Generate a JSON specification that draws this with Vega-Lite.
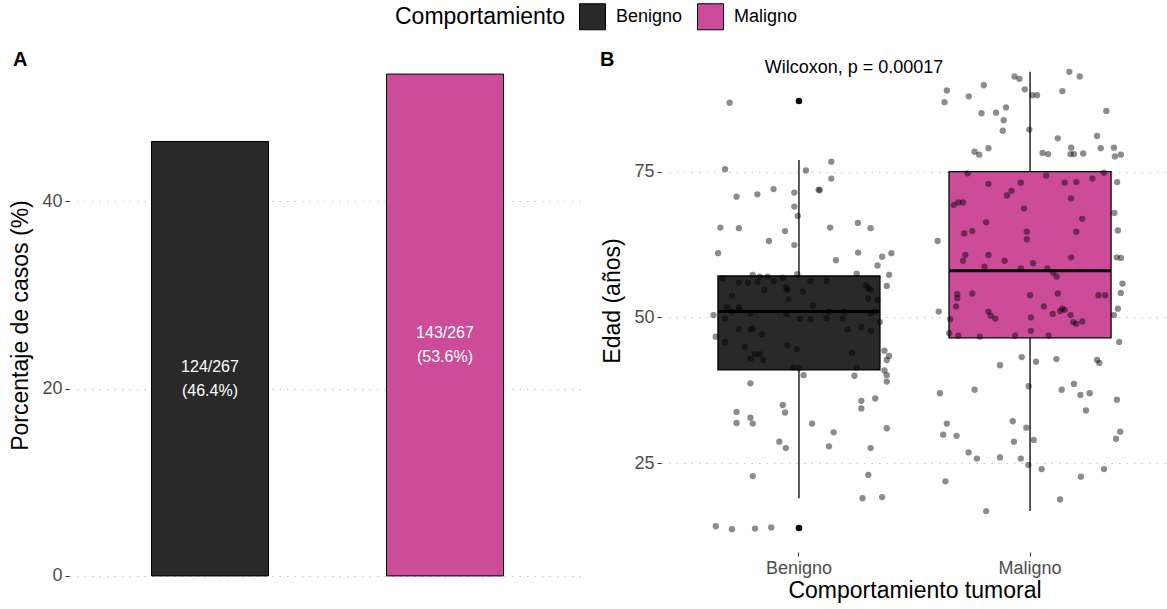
{
  "$schema": "https://vega.github.io/schema/vega-lite/v6.json",
  "padding": {"left": 9, "top": 3, "right": 0, "bottom": 4},
  "config": {
    "font": "Liberation Sans",
    "view": {"stroke": null},
    "axis": {
      "domain": false,
      "tickColor": "#333333",
      "tickSize": 4,
      "labelColor": "#4d4d4d",
      "labelFontSize": 18,
      "labelPadding": 3,
      "titleFontSize": 23,
      "titleFontWeight": "normal",
      "titleColor": "black",
      "gridColor": "#c4c4c4",
      "gridDash": [1.5, 6],
      "gridWidth": 1.2
    },
    "title": {"fontSize": 20, "fontWeight": "bold", "color": "black", "anchor": "start", "frame": "bounds"}
  },
  "datasets": {
    "barras": [
      {"grupo": "Benigno", "pct": 46.4, "label": "124/267\n(46.4%)"},
      {"grupo": "Maligno", "pct": 53.6, "label": "143/267\n(53.6%)"}
    ],
    "stats": [
      {"grupo": "Benigno", "lower": 19.0, "q1": 41.0, "median": 51.0, "q3": 57.1, "upper": 77.0},
      {"grupo": "Maligno", "lower": 16.8, "q1": 46.5, "median": 58.0, "q3": 75.0, "upper": 92.1}
    ],
    "outl": [
      {"grupo": "Benigno", "edad": 87.1},
      {"grupo": "Benigno", "edad": 13.9}
    ],
    "nota": [
      {"grupo": "Benigno", "y": 92.8, "label": "Wilcoxon, p = 0.00017"}
    ],
    "pts": [
      {"grupo":"Benigno","edad":86.8,"jit":-0.30},
      {"grupo":"Benigno","edad":75.4,"jit":-0.32},
      {"grupo":"Benigno","edad":75.2,"jit":0.03},
      {"grupo":"Benigno","edad":76.7,"jit":0.14},
      {"grupo":"Benigno","edad":73.8,"jit":0.14},
      {"grupo":"Benigno","edad":71.9,"jit":0.085},
      {"grupo":"Benigno","edad":71.8,"jit":0.09},
      {"grupo":"Benigno","edad":70.7,"jit":-0.27},
      {"grupo":"Benigno","edad":71.1,"jit":-0.18},
      {"grupo":"Benigno","edad":72.0,"jit":-0.11},
      {"grupo":"Benigno","edad":71.4,"jit":-0.02},
      {"grupo":"Benigno","edad":69.0,"jit":-0.02},
      {"grupo":"Benigno","edad":67.4,"jit":-0.005},
      {"grupo":"Benigno","edad":65.4,"jit":-0.34},
      {"grupo":"Benigno","edad":65.3,"jit":-0.26},
      {"grupo":"Benigno","edad":64.8,"jit":-0.06},
      {"grupo":"Benigno","edad":65.4,"jit":0.135},
      {"grupo":"Benigno","edad":66.2,"jit":0.255},
      {"grupo":"Benigno","edad":65.3,"jit":0.31},
      {"grupo":"Benigno","edad":63.1,"jit":-0.13},
      {"grupo":"Benigno","edad":62.4,"jit":-0.02},
      {"grupo":"Benigno","edad":61.0,"jit":-0.35},
      {"grupo":"Benigno","edad":61.1,"jit":0.256},
      {"grupo":"Benigno","edad":59.8,"jit":0.16},
      {"grupo":"Benigno","edad":60.4,"jit":0.36},
      {"grupo":"Benigno","edad":61.0,"jit":0.40},
      {"grupo":"Benigno","edad":58.9,"jit":0.34},
      {"grupo":"Benigno","edad":57.3,"jit":0.39},
      {"grupo":"Benigno","edad":55.4,"jit":0.38},
      {"grupo":"Benigno","edad":57.5,"jit":0.25},
      {"grupo":"Benigno","edad":57.3,"jit":-0.20},
      {"grupo":"Benigno","edad":57.0,"jit":-0.17},
      {"grupo":"Benigno","edad":57.0,"jit":-0.135},
      {"grupo":"Benigno","edad":56.8,"jit":-0.07},
      {"grupo":"Benigno","edad":57.4,"jit":-0.007},
      {"grupo":"Benigno","edad":56.7,"jit":-0.33},
      {"grupo":"Benigno","edad":55.9,"jit":-0.26},
      {"grupo":"Benigno","edad":55.9,"jit":-0.22},
      {"grupo":"Benigno","edad":56.1,"jit":-0.18},
      {"grupo":"Benigno","edad":56.2,"jit":-0.11},
      {"grupo":"Benigno","edad":54.7,"jit":-0.15},
      {"grupo":"Benigno","edad":55.1,"jit":-0.055},
      {"grupo":"Benigno","edad":54.7,"jit":-0.05},
      {"grupo":"Benigno","edad":54.4,"jit":0.017},
      {"grupo":"Benigno","edad":56.3,"jit":0.05},
      {"grupo":"Benigno","edad":56.3,"jit":0.12},
      {"grupo":"Benigno","edad":55.5,"jit":0.29},
      {"grupo":"Benigno","edad":55.0,"jit":0.30},
      {"grupo":"Benigno","edad":54.7,"jit":0.31},
      {"grupo":"Benigno","edad":53.7,"jit":-0.29},
      {"grupo":"Benigno","edad":53.1,"jit":-0.045},
      {"grupo":"Benigno","edad":53.2,"jit":0.30},
      {"grupo":"Benigno","edad":53.0,"jit":0.34},
      {"grupo":"Benigno","edad":51.7,"jit":-0.31},
      {"grupo":"Benigno","edad":51.7,"jit":-0.26},
      {"grupo":"Benigno","edad":52.0,"jit":0.06},
      {"grupo":"Benigno","edad":50.4,"jit":-0.37},
      {"grupo":"Benigno","edad":49.8,"jit":-0.32},
      {"grupo":"Benigno","edad":51.0,"jit":-0.29},
      {"grupo":"Benigno","edad":51.3,"jit":-0.26},
      {"grupo":"Benigno","edad":50.7,"jit":-0.21},
      {"grupo":"Benigno","edad":50.6,"jit":-0.055},
      {"grupo":"Benigno","edad":49.8,"jit":0.004},
      {"grupo":"Benigno","edad":49.7,"jit":0.05},
      {"grupo":"Benigno","edad":49.9,"jit":0.12},
      {"grupo":"Benigno","edad":51.0,"jit":0.13},
      {"grupo":"Benigno","edad":49.8,"jit":0.19},
      {"grupo":"Benigno","edad":51.0,"jit":0.195},
      {"grupo":"Benigno","edad":50.7,"jit":0.31},
      {"grupo":"Benigno","edad":51.0,"jit":0.33},
      {"grupo":"Benigno","edad":49.2,"jit":0.35},
      {"grupo":"Benigno","edad":46.7,"jit":-0.36},
      {"grupo":"Benigno","edad":45.8,"jit":-0.32},
      {"grupo":"Benigno","edad":48.0,"jit":-0.26},
      {"grupo":"Benigno","edad":47.9,"jit":-0.21},
      {"grupo":"Benigno","edad":48.1,"jit":-0.2},
      {"grupo":"Benigno","edad":47.1,"jit":-0.16},
      {"grupo":"Benigno","edad":44.9,"jit":-0.235},
      {"grupo":"Benigno","edad":43.7,"jit":-0.19},
      {"grupo":"Benigno","edad":43.7,"jit":-0.17},
      {"grupo":"Benigno","edad":42.9,"jit":-0.21},
      {"grupo":"Benigno","edad":42.7,"jit":-0.155},
      {"grupo":"Benigno","edad":45.2,"jit":-0.05},
      {"grupo":"Benigno","edad":44.6,"jit":-0.01},
      {"grupo":"Benigno","edad":47.9,"jit":0.21},
      {"grupo":"Benigno","edad":48.3,"jit":0.27},
      {"grupo":"Benigno","edad":47.7,"jit":0.31},
      {"grupo":"Benigno","edad":43.9,"jit":0.23},
      {"grupo":"Benigno","edad":41.4,"jit":-0.025},
      {"grupo":"Benigno","edad":41.3,"jit":0.0},
      {"grupo":"Benigno","edad":41.4,"jit":0.25},
      {"grupo":"Benigno","edad":40.1,"jit":0.02},
      {"grupo":"Benigno","edad":40.0,"jit":0.24},
      {"grupo":"Benigno","edad":44.3,"jit":0.37},
      {"grupo":"Benigno","edad":43.4,"jit":0.39},
      {"grupo":"Benigno","edad":42.7,"jit":0.38},
      {"grupo":"Benigno","edad":40.9,"jit":0.37},
      {"grupo":"Benigno","edad":40.1,"jit":0.38},
      {"grupo":"Benigno","edad":39.0,"jit":0.38},
      {"grupo":"Benigno","edad":38.7,"jit":-0.21},
      {"grupo":"Benigno","edad":35.7,"jit":0.27},
      {"grupo":"Benigno","edad":34.4,"jit":0.27},
      {"grupo":"Benigno","edad":36.1,"jit":0.33},
      {"grupo":"Benigno","edad":33.8,"jit":-0.27},
      {"grupo":"Benigno","edad":32.8,"jit":-0.21},
      {"grupo":"Benigno","edad":31.9,"jit":-0.27},
      {"grupo":"Benigno","edad":31.8,"jit":-0.2},
      {"grupo":"Benigno","edad":35.0,"jit":-0.07},
      {"grupo":"Benigno","edad":33.7,"jit":-0.06},
      {"grupo":"Benigno","edad":31.8,"jit":0.057},
      {"grupo":"Benigno","edad":30.3,"jit":0.15},
      {"grupo":"Benigno","edad":31.0,"jit":0.38},
      {"grupo":"Benigno","edad":28.7,"jit":-0.085},
      {"grupo":"Benigno","edad":27.6,"jit":-0.057},
      {"grupo":"Benigno","edad":27.9,"jit":0.13},
      {"grupo":"Benigno","edad":27.6,"jit":0.31},
      {"grupo":"Benigno","edad":22.8,"jit":-0.2},
      {"grupo":"Benigno","edad":23.0,"jit":0.30},
      {"grupo":"Benigno","edad":19.0,"jit":0.275},
      {"grupo":"Benigno","edad":19.2,"jit":0.36},
      {"grupo":"Benigno","edad":14.2,"jit":-0.36},
      {"grupo":"Benigno","edad":13.7,"jit":-0.29},
      {"grupo":"Benigno","edad":13.8,"jit":-0.19},
      {"grupo":"Benigno","edad":14.0,"jit":-0.12},
      {"grupo":"Maligno","edad":88.9,"jit":-0.36},
      {"grupo":"Maligno","edad":86.9,"jit":-0.37},
      {"grupo":"Maligno","edad":87.9,"jit":-0.265},
      {"grupo":"Maligno","edad":89.8,"jit":-0.20},
      {"grupo":"Maligno","edad":91.3,"jit":-0.067},
      {"grupo":"Maligno","edad":90.9,"jit":-0.046},
      {"grupo":"Maligno","edad":89.1,"jit":-0.023},
      {"grupo":"Maligno","edad":88.1,"jit":0.009},
      {"grupo":"Maligno","edad":88.1,"jit":0.03},
      {"grupo":"Maligno","edad":92.1,"jit":0.17},
      {"grupo":"Maligno","edad":91.3,"jit":0.215},
      {"grupo":"Maligno","edad":88.8,"jit":0.14},
      {"grupo":"Maligno","edad":85.4,"jit":0.33},
      {"grupo":"Maligno","edad":85.0,"jit":-0.21},
      {"grupo":"Maligno","edad":85.1,"jit":-0.147},
      {"grupo":"Maligno","edad":86.0,"jit":-0.104},
      {"grupo":"Maligno","edad":83.8,"jit":-0.114},
      {"grupo":"Maligno","edad":82.0,"jit":-0.118},
      {"grupo":"Maligno","edad":82.2,"jit":-0.003},
      {"grupo":"Maligno","edad":80.7,"jit":0.12},
      {"grupo":"Maligno","edad":81.1,"jit":0.29},
      {"grupo":"Maligno","edad":78.4,"jit":-0.24},
      {"grupo":"Maligno","edad":77.9,"jit":-0.22},
      {"grupo":"Maligno","edad":79.0,"jit":-0.18},
      {"grupo":"Maligno","edad":78.2,"jit":0.054},
      {"grupo":"Maligno","edad":78.0,"jit":0.078},
      {"grupo":"Maligno","edad":79.1,"jit":0.178},
      {"grupo":"Maligno","edad":78.0,"jit":0.175},
      {"grupo":"Maligno","edad":78.0,"jit":0.19},
      {"grupo":"Maligno","edad":78.1,"jit":0.23},
      {"grupo":"Maligno","edad":79.0,"jit":0.306},
      {"grupo":"Maligno","edad":79.1,"jit":0.363},
      {"grupo":"Maligno","edad":77.6,"jit":0.367},
      {"grupo":"Maligno","edad":77.9,"jit":0.393},
      {"grupo":"Maligno","edad":73.2,"jit":0.377},
      {"grupo":"Maligno","edad":67.9,"jit":0.365},
      {"grupo":"Maligno","edad":64.9,"jit":0.38},
      {"grupo":"Maligno","edad":60.3,"jit":0.375},
      {"grupo":"Maligno","edad":60.2,"jit":0.393},
      {"grupo":"Maligno","edad":63.1,"jit":-0.40},
      {"grupo":"Maligno","edad":55.8,"jit":0.40},
      {"grupo":"Maligno","edad":54.2,"jit":0.393},
      {"grupo":"Maligno","edad":51.5,"jit":0.38},
      {"grupo":"Maligno","edad":74.7,"jit":-0.27},
      {"grupo":"Maligno","edad":72.9,"jit":-0.18},
      {"grupo":"Maligno","edad":73.1,"jit":-0.04},
      {"grupo":"Maligno","edad":74.3,"jit":0.07},
      {"grupo":"Maligno","edad":73.1,"jit":0.15},
      {"grupo":"Maligno","edad":73.2,"jit":0.20},
      {"grupo":"Maligno","edad":73.8,"jit":0.27},
      {"grupo":"Maligno","edad":74.8,"jit":0.32},
      {"grupo":"Maligno","edad":70.9,"jit":-0.10},
      {"grupo":"Maligno","edad":71.7,"jit":-0.08},
      {"grupo":"Maligno","edad":69.3,"jit":-0.33},
      {"grupo":"Maligno","edad":69.7,"jit":-0.31},
      {"grupo":"Maligno","edad":69.7,"jit":-0.29},
      {"grupo":"Maligno","edad":70.4,"jit":0.177},
      {"grupo":"Maligno","edad":68.7,"jit":-0.026},
      {"grupo":"Maligno","edad":66.9,"jit":0.226},
      {"grupo":"Maligno","edad":66.3,"jit":-0.19},
      {"grupo":"Maligno","edad":64.4,"jit":-0.285},
      {"grupo":"Maligno","edad":64.8,"jit":-0.25},
      {"grupo":"Maligno","edad":64.7,"jit":-0.014},
      {"grupo":"Maligno","edad":63.4,"jit":-0.014},
      {"grupo":"Maligno","edad":64.7,"jit":0.20},
      {"grupo":"Maligno","edad":60.7,"jit":-0.28},
      {"grupo":"Maligno","edad":59.7,"jit":-0.29},
      {"grupo":"Maligno","edad":60.7,"jit":-0.18},
      {"grupo":"Maligno","edad":59.7,"jit":-0.11},
      {"grupo":"Maligno","edad":59.3,"jit":0.013},
      {"grupo":"Maligno","edad":58.7,"jit":-0.197},
      {"grupo":"Maligno","edad":58.4,"jit":-0.04},
      {"grupo":"Maligno","edad":58.4,"jit":0.075},
      {"grupo":"Maligno","edad":60.3,"jit":0.178},
      {"grupo":"Maligno","edad":57.7,"jit":0.10},
      {"grupo":"Maligno","edad":57.0,"jit":0.115},
      {"grupo":"Maligno","edad":54.0,"jit":-0.315},
      {"grupo":"Maligno","edad":53.3,"jit":-0.315},
      {"grupo":"Maligno","edad":54.1,"jit":-0.25},
      {"grupo":"Maligno","edad":53.8,"jit":0.0},
      {"grupo":"Maligno","edad":54.1,"jit":0.12},
      {"grupo":"Maligno","edad":53.8,"jit":0.296},
      {"grupo":"Maligno","edad":53.8,"jit":0.325},
      {"grupo":"Maligno","edad":51.9,"jit":-0.32},
      {"grupo":"Maligno","edad":51.9,"jit":0.06},
      {"grupo":"Maligno","edad":51.5,"jit":0.14},
      {"grupo":"Maligno","edad":51.0,"jit":-0.395},
      {"grupo":"Maligno","edad":49.7,"jit":-0.345},
      {"grupo":"Maligno","edad":51.0,"jit":-0.18},
      {"grupo":"Maligno","edad":50.3,"jit":-0.17},
      {"grupo":"Maligno","edad":49.8,"jit":-0.15},
      {"grupo":"Maligno","edad":50.0,"jit":0.004},
      {"grupo":"Maligno","edad":50.6,"jit":0.098},
      {"grupo":"Maligno","edad":51.1,"jit":0.13},
      {"grupo":"Maligno","edad":51.3,"jit":0.15},
      {"grupo":"Maligno","edad":50.4,"jit":0.175},
      {"grupo":"Maligno","edad":49.2,"jit":0.187},
      {"grupo":"Maligno","edad":48.9,"jit":0.2},
      {"grupo":"Maligno","edad":49.3,"jit":0.226},
      {"grupo":"Maligno","edad":50.4,"jit":0.363},
      {"grupo":"Maligno","edad":47.3,"jit":-0.35},
      {"grupo":"Maligno","edad":46.85,"jit":-0.31},
      {"grupo":"Maligno","edad":46.7,"jit":-0.217},
      {"grupo":"Maligno","edad":46.85,"jit":-0.064},
      {"grupo":"Maligno","edad":47.7,"jit":0.004},
      {"grupo":"Maligno","edad":46.85,"jit":0.08},
      {"grupo":"Maligno","edad":45.8,"jit":0.386},
      {"grupo":"Maligno","edad":43.2,"jit":-0.036},
      {"grupo":"Maligno","edad":42.4,"jit":0.026},
      {"grupo":"Maligno","edad":42.85,"jit":0.114},
      {"grupo":"Maligno","edad":42.7,"jit":0.29},
      {"grupo":"Maligno","edad":42.2,"jit":0.3},
      {"grupo":"Maligno","edad":41.8,"jit":-0.13},
      {"grupo":"Maligno","edad":37.0,"jit":-0.39},
      {"grupo":"Maligno","edad":37.6,"jit":-0.24},
      {"grupo":"Maligno","edad":38.2,"jit":-0.006},
      {"grupo":"Maligno","edad":37.6,"jit":0.137},
      {"grupo":"Maligno","edad":38.6,"jit":0.19},
      {"grupo":"Maligno","edad":36.7,"jit":0.218},
      {"grupo":"Maligno","edad":37.0,"jit":0.258},
      {"grupo":"Maligno","edad":35.9,"jit":0.376},
      {"grupo":"Maligno","edad":34.05,"jit":0.242},
      {"grupo":"Maligno","edad":31.8,"jit":-0.36},
      {"grupo":"Maligno","edad":29.9,"jit":-0.376},
      {"grupo":"Maligno","edad":29.7,"jit":-0.318},
      {"grupo":"Maligno","edad":32.2,"jit":-0.075},
      {"grupo":"Maligno","edad":31.1,"jit":-0.016},
      {"grupo":"Maligno","edad":28.7,"jit":-0.07},
      {"grupo":"Maligno","edad":29.0,"jit":0.016},
      {"grupo":"Maligno","edad":30.4,"jit":0.39},
      {"grupo":"Maligno","edad":29.2,"jit":0.372},
      {"grupo":"Maligno","edad":26.85,"jit":-0.266},
      {"grupo":"Maligno","edad":25.8,"jit":-0.23},
      {"grupo":"Maligno","edad":26.0,"jit":-0.13},
      {"grupo":"Maligno","edad":25.8,"jit":-0.04},
      {"grupo":"Maligno","edad":24.7,"jit":-0.007},
      {"grupo":"Maligno","edad":24.0,"jit":0.05},
      {"grupo":"Maligno","edad":24.0,"jit":0.32},
      {"grupo":"Maligno","edad":22.7,"jit":0.22},
      {"grupo":"Maligno","edad":21.9,"jit":-0.366},
      {"grupo":"Maligno","edad":18.8,"jit":0.13},
      {"grupo":"Maligno","edad":16.8,"jit":-0.19}
    ]
  },
  "spacing": 13,
  "resolve": {"scale": {"color": "shared"}},
  "hconcat": [
    {
      "width": 517,
      "height": 552,
      "title": {"text": "A", "offset": -21, "dx": 3},
      "data": {"name": "barras"},
      "layer": [
        {
          "mark": {"type": "bar", "stroke": "black", "strokeWidth": 1, "width": 117},
          "encoding": {
            "x": {"field": "grupo", "type": "nominal", "axis": null, "scale": {"type": "band", "paddingInner": 0.5, "paddingOuter": 0.35}},
            "y": {"field": "pct", "type": "quantitative", "scale": {"domain": [-2.68, 56.28], "nice": false, "zero": false}, "axis": {"values": [0, 20, 40], "title": "Porcentaje de casos (%)", "grid": true, "titlePadding": 9}},
            "y2": {"datum": 0},
            "color": {
              "field": "grupo", "type": "nominal",
              "scale": {"domain": ["Benigno", "Maligno"], "range": ["#292929", "#CC4C99"]},
              "legend": {"orient": "none", "legendX": 326, "legendY": -46, "direction": "horizontal", "title": "Comportamiento", "titleOrient": "left", "titleBaseline": "middle", "symbolType": "square", "symbolSize": 676, "symbolStrokeColor": "black", "symbolStrokeWidth": 1, "symbolOpacity": 1, "labelFontSize": 18, "labelColor": "black", "titleFontSize": 23, "titleFontWeight": "normal", "titleColor": "black", "titlePadding": 13, "labelOffset": 10, "columnPadding": 12}
            }
          }
        },
        {
          "transform": [{"calculate": "datum.pct / 2", "as": "ypos"}],
          "mark": {"type": "text", "color": "white", "baseline": "top", "fontSize": 16, "lineHeight": 24, "lineBreak": "\n"},
          "encoding": {
            "x": {"field": "grupo", "type": "nominal"},
            "y": {"field": "ypos", "type": "quantitative"},
            "text": {"field": "label"}
          }
        }
      ]
    },
    {
      "width": 507,
      "height": 503,
      "title": {"text": "B", "offset": -21, "dx": -2},
      "layer": [
        {
          "data": {"name": "stats"},
          "mark": {"type": "rule", "color": "black", "strokeWidth": 1.3},
          "encoding": {
            "x": {"field": "grupo", "type": "nominal", "scale": {"type": "band", "paddingInner": 0.3, "paddingOuter": 0.247}, "axis": {"title": "Comportamiento tumoral", "labelAngle": 0, "grid": false, "ticks": true, "titlePadding": 2}},
            "y": {"field": "lower", "type": "quantitative", "scale": {"domain": [9.78, 96.02], "nice": false, "zero": false}, "axis": {"values": [25, 50, 75], "title": "Edad (años)", "grid": true, "titlePadding": 9}},
            "y2": {"field": "upper"}
          }
        },
        {
          "data": {"name": "stats"},
          "mark": {"type": "bar", "stroke": "black", "strokeWidth": 1.3, "width": 162},
          "encoding": {
            "x": {"field": "grupo", "type": "nominal"},
            "y": {"field": "q1", "type": "quantitative"},
            "y2": {"field": "q3"},
            "color": {
              "field": "grupo", "type": "nominal",
              "scale": {"domain": ["Benigno", "Maligno"], "range": ["#292929", "#CC4C99"]},
              "legend": {"orient": "none", "legendX": 326, "legendY": -46, "direction": "horizontal", "title": "Comportamiento", "titleOrient": "left", "titleBaseline": "middle", "symbolType": "square", "symbolSize": 676, "symbolStrokeColor": "black", "symbolStrokeWidth": 1, "symbolOpacity": 1, "labelFontSize": 18, "labelColor": "black", "titleFontSize": 23, "titleFontWeight": "normal", "titleColor": "black", "titlePadding": 13, "labelOffset": 10, "columnPadding": 12}
            }
          }
        },
        {
          "data": {"name": "stats"},
          "mark": {"type": "tick", "color": "black", "thickness": 3, "size": 162, "opacity": 1},
          "encoding": {
            "x": {"field": "grupo", "type": "nominal"},
            "y": {"field": "median", "type": "quantitative"}
          }
        },
        {
          "data": {"name": "outl"},
          "mark": {"type": "circle", "color": "black", "size": 44, "opacity": 1},
          "encoding": {
            "x": {"field": "grupo", "type": "nominal"},
            "y": {"field": "edad", "type": "quantitative"}
          }
        },
        {
          "data": {"name": "pts"},
          "mark": {"type": "circle", "color": "black", "size": 40, "opacity": 0.45},
          "encoding": {
            "x": {"field": "grupo", "type": "nominal"},
            "xOffset": {"field": "jit", "type": "quantitative", "scale": {"domain": [-0.35, 0.35]}},
            "y": {"field": "edad", "type": "quantitative"}
          }
        },
        {
          "data": {"name": "nota"},
          "mark": {"type": "text", "color": "black", "fontSize": 18, "baseline": "middle", "dx": 55},
          "encoding": {
            "x": {"field": "grupo", "type": "nominal"},
            "y": {"field": "y", "type": "quantitative"},
            "text": {"field": "label"}
          }
        }
      ]
    }
  ]
}
